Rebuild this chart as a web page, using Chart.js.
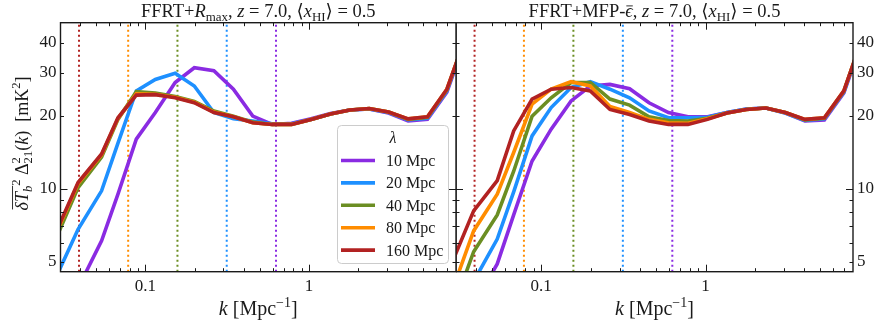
<!DOCTYPE html>
<html>
<head>
<meta charset="utf-8">
<script src="https://cdn.jsdelivr.net/npm/chart.js@4.4.1/dist/chart.umd.min.js"></script>
<style>
  html, body { margin: 0; padding: 0; background: #fff; }
  #wrap { position: relative; width: 877px; height: 323px; }
  #left { position: absolute; left: 0; top: 0; }
  #right { position: absolute; left: 456px; top: 0; }
</style>
</head>
<body>
<div id="wrap">
  <canvas id="left" width="457" height="323" style="width:457px;height:323px"></canvas>
  <canvas id="right" width="421" height="323" style="width:421px;height:323px"></canvas>
</div>
<script>
// k bins (Mpc^-1), shared by both panels
const kBins = [0.0295, 0.0388, 0.054, 0.068, 0.088, 0.115, 0.152, 0.199, 0.262, 0.345, 0.453,
  0.595, 0.782, 1.028, 1.35, 1.774, 2.33, 3.06, 4.03, 5.29, 6.95, 9.13];

const lambdaLabels = ['10 Mpc', '20 Mpc', '40 Mpc', '80 Mpc', '160 Mpc'];
const lambdaK = [0.628, 0.314, 0.157, 0.0785, 0.0393]; // 2*pi/lambda
const colors = ['#8a2be2', '#1e90ff', '#6b8e23', '#ff8c00', '#b22222'];

// left panel: FFRT + Rmax
const rmax10 = [2.6, 3.9, 6.1, 9.5, 16.0, 20.6, 27.4, 31.5, 30.6, 25.7, 19.9, 18.4, 18.6, 19.4, 20.4, 21.1, 21.3, 20.5, 19.0, 19.3, 25.0, 42];
const rmax20 = [4.55, 6.8, 9.8, 15.4, 25.3, 28.2, 29.9, 26.5, 20.6, 19.4, 19.0, 18.5, 18.5, 19.3, 20.3, 21.1, 21.3, 20.6, 19.2, 19.5, 25.3, 43];
const rmax40 = [6.6, 10.1, 13.5, 19.3, 25.1, 24.8, 24.0, 22.9, 20.9, 19.9, 18.8, 18.4, 18.4, 19.3, 20.3, 21.1, 21.4, 20.7, 19.3, 19.7, 25.5, 43];
const rmax80 = [6.9, 10.5, 13.8, 19.5, 24.6, 24.5, 23.8, 22.7, 20.7, 19.8, 18.7, 18.4, 18.4, 19.3, 20.3, 21.1, 21.4, 20.7, 19.4, 19.8, 25.7, 43];
const rmax160 = [7.0, 10.6, 13.9, 19.6, 24.3, 24.4, 23.7, 22.6, 20.6, 19.8, 18.7, 18.4, 18.4, 19.3, 20.3, 21.1, 21.4, 20.7, 19.4, 19.8, 25.7, 43];

// right panel: FFRT + MFP-eps
const mfp10 = [2.0, 3.3, 4.9, 7.8, 13.0, 17.6, 23.0, 26.5, 26.9, 25.8, 22.6, 20.6, 19.8, 19.8, 20.6, 21.3, 21.5, 20.5, 19.0, 19.2, 24.8, 42];
const mfp20 = [3.0, 4.15, 6.2, 9.7, 16.5, 21.6, 26.1, 27.6, 25.7, 23.7, 20.9, 19.6, 19.6, 19.7, 20.6, 21.3, 21.5, 20.5, 19.1, 19.4, 25.0, 43];
const mfp40 = [3.3, 5.5, 7.8, 11.8, 19.9, 23.7, 27.4, 27.4, 23.4, 22.1, 19.8, 19.1, 19.0, 19.5, 20.5, 21.2, 21.5, 20.6, 19.2, 19.5, 25.2, 43];
const mfp80 = [4.0, 6.7, 9.5, 14.1, 22.3, 25.7, 27.6, 26.5, 21.8, 20.6, 19.3, 18.7, 18.6, 19.4, 20.5, 21.2, 21.5, 20.6, 19.3, 19.6, 25.3, 43];
const mfp160 = [5.2, 8.1, 10.8, 17.3, 23.4, 25.7, 26.1, 25.3, 21.2, 20.2, 19.0, 18.4, 18.4, 19.3, 20.5, 21.2, 21.5, 20.6, 19.3, 19.6, 25.3, 43];

const xMin = 0.0303, xMax = 7.9;
const yMin = 4.55, yMax = 48.3;
const xTicks = [0.04, 0.05, 0.06, 0.07, 0.08, 0.09, 0.1, 0.2, 0.3, 0.4, 0.5, 0.6, 0.7, 0.8, 0.9, 1, 2, 3, 4, 5, 6, 7];
const xMajor = [0.1, 1];
const xLabels = { 0.1: '0.1', 1: '1' };
const yTicks = [5, 6, 7, 8, 9, 10, 20, 30, 40];
const yMajor = [10];
const yLabels = { 5: '5', 10: '10', 20: '20', 30: '30', 40: '40' };

const SERIF = '"Liberation Serif", "DejaVu Serif", serif';
const INK = '#1a1a1a';

// rich text: parts = {t, i: italic, s: 'sub'|'sup', keep: no advance, o: overline}
function drawRich(ctx, parts, x, y, fs, align, overY = 0.86) {
  const items = [];
  let cx = 0;
  for (const p of parts) {
    const size = p.s ? fs * 0.7 : fs;
    const font = (p.i ? 'italic ' : '') + size + 'px ' + SERIF;
    ctx.font = font;
    const w = ctx.measureText(p.t).width;
    const dy = p.s === 'sub' ? fs * 0.22 : p.s === 'sup' ? -fs * 0.42 : 0;
    items.push({ t: p.t, font, x: cx, dy, w, o: p.o });
    if (!p.keep) cx += w;
  }
  const x0 = align === 'center' ? x - cx / 2 : x;
  ctx.fillStyle = INK;
  ctx.textBaseline = 'alphabetic';
  ctx.textAlign = 'left';
  let oa = null, ob = null;
  for (const it of items) {
    ctx.font = it.font;
    ctx.fillText(it.t, x0 + it.x, y + it.dy);
    if (it.o) {
      if (oa === null) oa = x0 + it.x;
      ob = x0 + it.x + it.w;
    }
  }
  if (oa !== null) {
    ctx.strokeStyle = INK;
    ctx.lineWidth = 0.9;
    ctx.beginPath();
    ctx.moveTo(oa + 1, y - fs * overY);
    ctx.lineTo(ob, y - fs * overY);
    ctx.stroke();
  }
}

function makeDatasets(series) {
  const curves = series.map((vals, i) => ({
    label: lambdaLabels[i],
    data: kBins.map((k, j) => ({ x: k, y: vals[j] })),
    borderColor: colors[i],
    backgroundColor: colors[i],
    borderWidth: 3.6,
    pointRadius: 0,
    tension: 0,
    clip: 0,
    order: 4 - i,
    isCurve: true
  }));
  const marks = lambdaK.map((k, i) => ({
    label: 'k ' + lambdaLabels[i],
    data: [{ x: k, y: yMin }, { x: k, y: yMax }],
    borderColor: colors[i],
    borderWidth: 2,
    borderDash: [2, 3],
    pointRadius: 0,
    clip: 0,
    order: 10
  }));
  return curves.concat(marks);
}

const frameTicks = {
  id: 'frameTicks',
  afterDatasetsDraw(chart) {
    const { ctx, chartArea: a, scales } = chart;
    ctx.save();
    ctx.strokeStyle = INK;
    ctx.lineWidth = 1;
    ctx.beginPath();
    for (const v of xTicks) {
      const px = Math.round(scales.x.getPixelForValue(v)) + 0.5;
      const len = xMajor.includes(v) ? 7 : 3.5;
      ctx.moveTo(px, a.bottom); ctx.lineTo(px, a.bottom - len);
      ctx.moveTo(px, a.top); ctx.lineTo(px, a.top + len);
    }
    for (const v of yTicks) {
      const py = Math.round(scales.y.getPixelForValue(v)) + 0.5;
      const len = yMajor.includes(v) ? 7 : 3.5;
      ctx.moveTo(a.left, py); ctx.lineTo(a.left + len, py);
      ctx.moveTo(a.right, py); ctx.lineTo(a.right - len, py);
    }
    ctx.stroke();
    ctx.lineWidth = 1.4;
    ctx.strokeRect(a.left, a.top, a.right - a.left, a.bottom - a.top);
    ctx.restore();
  }
};

const textLayer = {
  id: 'textLayer',
  afterDraw(chart, args, opts) {
    const { ctx, chartArea: a } = chart;
    ctx.save();
    const cx = (a.left + a.right) / 2;
    drawRich(ctx, opts.title, cx, 17, 18.5, 'center', 0.6);
    drawRich(ctx, [{ t: 'k', i: true }, { t: ' [Mpc' }, { t: '\u22121', s: 'sup' }, { t: ']' }], cx, 315, 20, 'center');
    if (opts.yTitle) {
      ctx.translate(28, 143.5);
      ctx.rotate(-Math.PI / 2);
      drawRich(ctx, [
        { t: '\u03b4', i: true, o: true }, { t: 'T', i: true, o: true }, { t: 'b', i: true, s: 'sub', o: true },
        { t: '2', s: 'sup' }, { t: ' \u0394' }, { t: '2', s: 'sup', keep: true }, { t: '21', s: 'sub' },
        { t: '(' }, { t: 'k', i: true }, { t: ')  [mK' }, { t: '2', s: 'sup' }, { t: ']' }
      ], 0, 0, 18, 'center');
      ctx.setTransform(1, 0, 0, 1, 0, 0);
    }
    if (opts.legend) {
      const bx = 337.5, by = 125.5, bw = 111, bh = 138;
      ctx.beginPath();
      ctx.roundRect(bx, by, bw, bh, 4);
      ctx.fillStyle = 'rgba(255,255,255,0.85)';
      ctx.fill();
      ctx.strokeStyle = '#cccccc';
      ctx.lineWidth = 1;
      ctx.stroke();
      ctx.fillStyle = INK;
      ctx.textAlign = 'center';
      ctx.font = 'italic 16px ' + SERIF;
      ctx.fillText('\u03bb', 393, 143);
      const curves = chart.data.datasets.filter(d => d.isCurve);
      curves.forEach((d, i) => {
        const y = 160.5 + i * 22.4;
        ctx.strokeStyle = d.borderColor;
        ctx.lineWidth = 3.6;
        ctx.beginPath();
        ctx.moveTo(341, y); ctx.lineTo(375, y);
        ctx.stroke();
        ctx.fillStyle = INK;
        ctx.textAlign = 'left';
        ctx.font = '16px ' + SERIF;
        ctx.fillText(d.label, 386, y + 5.5);
      });
    }
    ctx.restore();
  }
};

function panelOptions(side, pad, yWidth, textOpts) {
  return {
    responsive: false,
    animation: false,
    layout: { padding: pad },
    plugins: {
      legend: { display: false },
      tooltip: { enabled: false },
      title: { display: false },
      textLayer: textOpts
    },
    scales: {
      x: {
        type: 'logarithmic',
        min: xMin, max: xMax,
        grid: { display: false, drawTicks: false },
        border: { display: false },
        afterBuildTicks: s => { s.ticks = xTicks.map(v => ({ value: v })); },
        afterFit: s => { s.height = 51.3; },
        ticks: {
          autoSkip: false, maxRotation: 0, padding: 5, color: INK,
          font: { family: SERIF, size: 17 },
          callback: v => xLabels[v] || ''
        }
      },
      y: {
        type: 'logarithmic',
        position: side,
        min: yMin, max: yMax,
        grid: { display: false, drawTicks: false },
        border: { display: false },
        afterBuildTicks: s => { s.ticks = yTicks.map(v => ({ value: v })); },
        afterFit: s => { s.width = yWidth; },
        ticks: {
          autoSkip: false, padding: 4, color: INK,
          font: { family: SERIF, size: 17 },
          callback: v => yLabels[v] || ''
        }
      }
    }
  };
}

new Chart(document.getElementById('left'), {
  type: 'line',
  data: { datasets: makeDatasets([rmax10, rmax20, rmax40, rmax80, rmax160]) },
  options: panelOptions('left', { top: 22.7, right: 1, bottom: 0, left: 0 }, 60.5, {
    title: [{ t: 'FFRT+' }, { t: 'R', i: true }, { t: 'max', s: 'sub' }, { t: ', ' }, { t: 'z', i: true },
      { t: ' = 7.0, \u27e8' }, { t: 'x', i: true }, { t: 'HI', s: 'sub' }, { t: '\u27e9 = 0.5' }],
    yTitle: true,
    legend: true
  }),
  plugins: [frameTicks, textLayer]
});

new Chart(document.getElementById('right'), {
  type: 'line',
  data: { datasets: makeDatasets([mfp10, mfp20, mfp40, mfp80, mfp160]) },
  options: panelOptions('right', { top: 22.7, right: 0, bottom: 0, left: 0 }, 24, {
    title: [{ t: 'FFRT+MFP-' }, { t: '\u03f5', i: true, o: true }, { t: ', ' }, { t: 'z', i: true },
      { t: ' = 7.0, \u27e8' }, { t: 'x', i: true }, { t: 'HI', s: 'sub' }, { t: '\u27e9 = 0.5' }],
    yTitle: false,
    legend: false
  }),
  plugins: [frameTicks, textLayer]
});
</script>
</body>
</html>
